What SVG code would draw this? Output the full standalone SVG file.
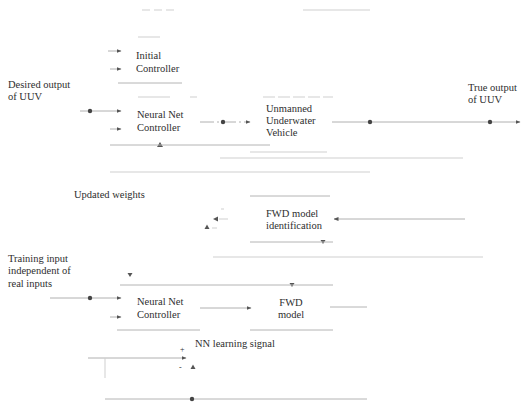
<svg xmlns="http://www.w3.org/2000/svg" width="521" height="408" viewBox="0 0 521 408" font-family="'Liberation Serif', 'Times New Roman', 'DejaVu Serif', serif">
<defs>
<marker id="ah" viewBox="0 0 10 10" refX="9" refY="5" markerWidth="5" markerHeight="5" orient="auto" markerUnits="userSpaceOnUse">
<path d="M0,1 L10,5 L0,9 z" fill="#555"/>
</marker>
<style>
text{font-family:'Liberation Serif','Times New Roman',serif;font-size:10.5px;fill:#2e2e2e}
.ln{stroke:#b4b4b4;stroke-width:1;fill:none}
.fl{stroke:#cfcfcf;stroke-width:1;fill:none}
.ar{stroke:#b0b0b0;stroke-width:1;fill:none;marker-end:url(#ah)}
.dot{fill:#444}
.tri{fill:#555}
</style>
</defs>
<rect width="521" height="408" fill="#ffffff"/>

<g id="connectors">
<line class="fl" x1="142" y1="10" x2="178" y2="10" stroke-dasharray="8,4"/>
<line class="fl" x1="303" y1="10" x2="370" y2="10"/>
<line class="ar" x1="108" y1="51" x2="121" y2="51"/>
<line class="ar" x1="110" y1="69" x2="121" y2="69"/>
<line class="ar" x1="80" y1="111" x2="121" y2="111"/>
<circle class="dot" cx="90" cy="111" r="2.2"/>
<line class="ar" x1="110" y1="129" x2="121" y2="129"/>
<line class="ar" x1="200" y1="122" x2="250" y2="122" stroke-dasharray="14,3,2,3"/>
<circle class="dot" cx="223" cy="122" r="2.2"/>
<line class="ar" x1="332" y1="122" x2="520" y2="122"/>
<circle class="dot" cx="370" cy="122" r="2.2"/>
<circle class="dot" cx="490" cy="122" r="2.2"/>
<line class="fl" x1="220" y1="158" x2="463" y2="158"/>
<line class="fl" x1="110" y1="172" x2="370" y2="172"/>
<path class="tri" d="M157,147 L160,142 L163,147 z"/>
<line class="ar" x1="465" y1="219" x2="334" y2="219"/>
<path class="tri" d="M213,219 L218,216.5 L218,221.5 z"/>
<line class="fl" x1="219" y1="219" x2="228" y2="219"/>
<line class="fl" x1="221" y1="209" x2="224" y2="209"/>
<path class="tri" d="M204.5,229 L207,224.5 L209.5,229 z"/>
<line class="fl" x1="212" y1="228" x2="217" y2="228"/>
<path class="tri" d="M320.5,240 L325.5,240 L323,244 z"/>
<line class="fl" x1="213" y1="257" x2="483" y2="257"/>
<path class="tri" d="M127.5,273 L132.5,273 L130,277 z"/>
<line class="ar" x1="50" y1="298" x2="121" y2="298"/>
<circle class="dot" cx="90" cy="298" r="2.2"/>
<line class="ar" x1="110" y1="317" x2="121" y2="317"/>
<line class="ar" x1="200" y1="308" x2="251" y2="308"/>
<line class="ln" x1="330" y1="307" x2="367" y2="307"/>
<path class="tri" d="M289.5,283 L294.5,283 L292,287 z"/>
<line class="ar" x1="88" y1="358" x2="186" y2="358"/>
<line class="fl" x1="105" y1="358" x2="105" y2="378"/>
<path class="tri" d="M190.5,369 L193,364.5 L195.5,369 z"/>
<line class="ln" x1="105" y1="399" x2="367" y2="399"/>
<circle class="dot" cx="192" cy="399" r="2.2"/>
</g>

<g id="initial-controller">
<line class="fl" x1="138" y1="37" x2="160" y2="37"/>
<text x="136" y="59">Initial</text>
<text x="136" y="72">Controller</text>
<line class="ln" x1="118" y1="83" x2="182" y2="83"/>
</g>

<g id="nn-controller-1">
<line class="fl" x1="138" y1="97" x2="170" y2="97"/>
<line class="fl" x1="190" y1="97" x2="197" y2="97"/>
<text x="137" y="118">Neural Net</text>
<text x="137" y="131">Controller</text>
<line class="ln" x1="110" y1="145" x2="270" y2="145"/>
</g>

<g id="uuv">
<line class="fl" x1="263" y1="97" x2="333" y2="97" stroke-dasharray="12,3"/>
<text x="266" y="112">Unmanned</text>
<text x="266" y="124">Underwater</text>
<text x="266" y="136">Vehicle</text>
<line class="fl" x1="250" y1="152" x2="327" y2="152"/>
</g>

<g id="fwd-identification">
<line class="ln" x1="250" y1="196" x2="330" y2="196"/>
<text x="266" y="217">FWD model</text>
<text x="266" y="229">identification</text>
<line class="ln" x1="250" y1="242" x2="333" y2="242"/>
</g>

<g id="nn-controller-2">
<line class="ln" x1="120" y1="285" x2="333" y2="285"/>
<text x="137" y="305">Neural Net</text>
<text x="137" y="318">Controller</text>
<line class="ln" x1="117" y1="330" x2="200" y2="330"/>
</g>

<g id="fwd-model">
<text x="291" y="306" text-anchor="middle">FWD</text>
<text x="291" y="318" text-anchor="middle">model</text>
<line class="ln" x1="250" y1="330" x2="333" y2="330"/>
</g>

<g id="labels">
<text x="8" y="88">Desired output</text>
<text x="8" y="100">of UUV</text>
<text x="468" y="91">True output</text>
<text x="468" y="103">of UUV</text>
<text x="74" y="198">Updated weights</text>
<text x="8" y="262">Training input</text>
<text x="8" y="274">independent of</text>
<text x="8" y="287">real inputs</text>
<text x="195" y="347">NN learning signal</text>
<text x="180" y="352" style="font-size:8px">+</text>
<text x="179" y="370" style="font-size:8px">-</text>
</g>
</svg>
